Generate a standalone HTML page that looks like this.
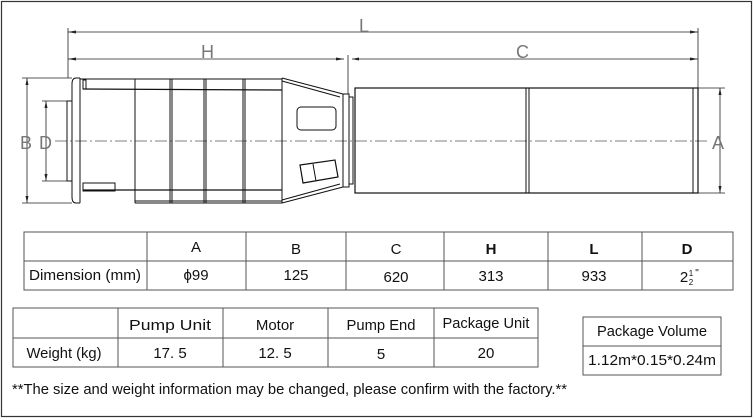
<!DOCTYPE html>
<html><head><meta charset="utf-8"><style>
body{margin:0;background:#fff;}
svg{display:block}
text{font-family:"Liberation Sans",sans-serif;fill:#111}
</style></head><body>
<svg width="754" height="420" viewBox="0 0 754 420" xmlns="http://www.w3.org/2000/svg">
<rect x="1.5" y="1.5" width="750" height="415" fill="#fff" stroke="#333" stroke-width="1.2"/>
<g stroke="#222" fill="none" stroke-width="0.8">
<line x1="68" y1="28" x2="68" y2="78"/>
<line x1="698" y1="28" x2="698" y2="88"/>
<line x1="348" y1="55" x2="348" y2="94"/>
<line x1="68" y1="32" x2="698" y2="32"/>
<line x1="68" y1="59" x2="344" y2="59"/>
<line x1="352" y1="59" x2="698" y2="59"/>
<line x1="22" y1="78" x2="72" y2="78"/><line x1="22" y1="203" x2="72" y2="203"/>
<line x1="27" y1="78" x2="27" y2="203"/>
<line x1="42" y1="101" x2="68" y2="101"/><line x1="42" y1="181" x2="68" y2="181"/>
<line x1="46" y1="101" x2="46" y2="181"/>
<line x1="698" y1="88" x2="725" y2="88"/><line x1="698" y1="193" x2="725" y2="193"/>
<line x1="720" y1="88" x2="720" y2="193"/>
</g>
<g fill="#222">
<path d="M68 32l8-1.5v3z"/><path d="M698 32l-8-1.5v3z"/>
<path d="M68 59l8-1.5v3z"/><path d="M344 59l-8-1.5v3z"/><path d="M352 59l7-1.5v3z"/><path d="M698 59l-8-1.5v3z"/>
<path d="M27 78l-1.5 7h3z"/><path d="M27 203l-1.5-7h3z"/>
<path d="M46 101l-1.5 7h3z"/><path d="M46 181l-1.5-7h3z"/>
<path d="M720 88l-1.5 7h3z"/><path d="M720 193l-1.5-7h3z"/>
</g>
<g font-size="18">
<text x="359" y="32" style="fill:#777">L</text>
<text x="201" y="58" style="fill:#777">H</text>
<text x="516" y="58" style="fill:#777">C</text>
<text x="20" y="149" style="fill:#777">B</text>
<text x="39" y="149" style="fill:#777">D</text>
<text x="712" y="149" style="fill:#777">A</text>
</g>
<line x1="55" y1="141" x2="710" y2="141" stroke="#555" stroke-width="0.7" stroke-dasharray="12,3,2,3"/>
<g stroke="#111" fill="none" stroke-width="1">
<rect x="67" y="101" width="5" height="80"/>
<path d="M80 78H76Q72 78 72 84V197Q72 203 76 203H80"/>
<line x1="80" y1="78" x2="80" y2="203"/>
<line x1="80" y1="79" x2="282" y2="79"/>
<line x1="83" y1="89" x2="282" y2="90" stroke-width="1.3"/>
<line x1="83" y1="190" x2="282" y2="190" stroke-width="1.3"/>
<line x1="135" y1="203" x2="282" y2="203"/>
<line x1="135" y1="201" x2="282" y2="201"/>
<rect x="83" y="80" width="3" height="9"/><rect x="83" y="183" width="32" height="8"/>
<line x1="135" y1="79" x2="135" y2="203"/>
<line x1="170" y1="79" x2="170" y2="203"/><line x1="172" y1="79" x2="172" y2="203"/>
<line x1="204" y1="79" x2="204" y2="203"/><line x1="206" y1="79" x2="206" y2="203"/>
<line x1="243" y1="79" x2="243" y2="203"/><line x1="245" y1="79" x2="245" y2="203"/>
<line x1="282" y1="78" x2="282" y2="203"/>
<path d="M282 78L343 94M282 81L340 97"/>
<path d="M282 203L343 187M282 200L340 184"/>
<rect x="343" y="94" width="6" height="93"/>
<rect x="349" y="97" width="4" height="87"/>
<rect x="297" y="107" width="39" height="23" rx="4"/>
<path d="M300 165l35-5 3 17-35 6z" stroke-width="1.2"/>
<line x1="313" y1="164" x2="316" y2="181"/>
<rect x="355" y="88" width="343" height="105" stroke-width="1.2"/>
<line x1="526" y1="88" x2="526" y2="193"/><line x1="529" y1="88" x2="529" y2="193"/>
<line x1="693" y1="88" x2="693" y2="193"/>
</g>
<g stroke="#555" stroke-width="1" fill="none">
<rect x="24" y="232" width="709" height="58"/>
<line x1="24" y1="261" x2="733" y2="261"/>
<line x1="147" y1="232" x2="147" y2="290"/><line x1="246" y1="232" x2="246" y2="290"/>
<line x1="346" y1="232" x2="346" y2="290"/><line x1="444" y1="232" x2="444" y2="290"/>
<line x1="548" y1="232" x2="548" y2="290"/><line x1="642" y1="232" x2="642" y2="290"/>
<rect x="13" y="308" width="525" height="59"/>
<line x1="13" y1="338" x2="538" y2="338"/>
<line x1="118" y1="308" x2="118" y2="367"/><line x1="223" y1="308" x2="223" y2="367"/>
<line x1="328" y1="308" x2="328" y2="367"/><line x1="434" y1="308" x2="434" y2="367"/>
<rect x="583" y="317" width="138" height="58"/>
<line x1="583" y1="346" x2="721" y2="346"/>
</g>
<g font-size="15" text-anchor="middle">
<text x="196" y="252">A</text><text x="296" y="254">B</text><text x="396" y="254">C</text>
<text x="491" y="254" font-weight="bold">H</text><text x="594" y="254" font-weight="bold">L</text><text x="687" y="254" font-weight="bold">D</text>
<text x="85" y="280" textLength="112" lengthAdjust="spacingAndGlyphs">Dimension (mm)</text>
<text x="196" y="280">ϕ99</text><text x="296" y="280">125</text><text x="396" y="282">620</text>
<text x="491" y="281">313</text><text x="594" y="281">933</text>
<text x="684" y="282">2</text><text x="691" y="276" font-size="8">1</text><text x="691" y="285" font-size="8">2</text><text x="697" y="276" font-size="10">"</text>
<text x="170" y="330" textLength="82" lengthAdjust="spacingAndGlyphs">Pump Unit</text><text x="275" y="330">Motor</text><text x="381" y="330" textLength="69" lengthAdjust="spacingAndGlyphs">Pump End</text><text x="486" y="328" textLength="87" lengthAdjust="spacingAndGlyphs">Package Unit</text>
<text x="64" y="358" textLength="75" lengthAdjust="spacingAndGlyphs">Weight (kg)</text><text x="170" y="358">17. 5</text><text x="275" y="358">12. 5</text><text x="381" y="359">5</text><text x="486" y="358">20</text>
<text x="652" y="336" textLength="110" lengthAdjust="spacingAndGlyphs">Package Volume</text><text x="652" y="365" textLength="128" lengthAdjust="spacingAndGlyphs">1.12m*0.15*0.24m</text>
</g>
<text x="12" y="394" font-size="15" textLength="555" lengthAdjust="spacingAndGlyphs">**The size and weight information may be changed, please confirm with the factory.**</text>
</svg>
</body></html>
